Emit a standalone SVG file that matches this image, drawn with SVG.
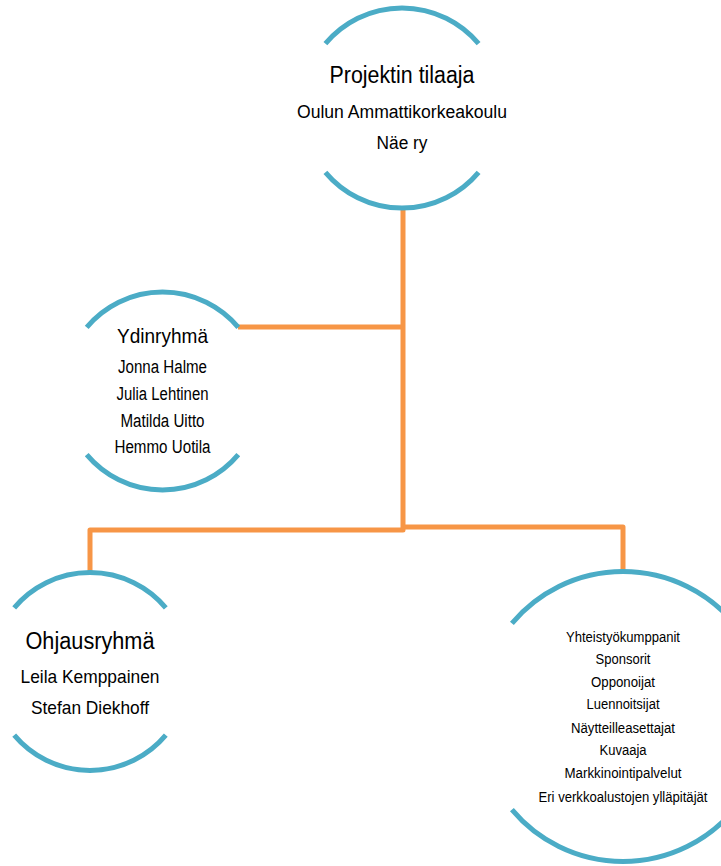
<svg xmlns="http://www.w3.org/2000/svg" width="721" height="866" viewBox="0 0 721 866">
<style>
.arc{fill:none;stroke:#4BACC6;stroke-width:5}
.con{fill:none;stroke:#F79646;stroke-width:5;stroke-linejoin:round}
text{font-family:"Liberation Sans",Arial,sans-serif;fill:#000;text-anchor:middle}
.t1{font-size:23px}
.t2{font-size:18px}
.t3{font-size:14px}
</style>
<rect width="721" height="866" fill="#fff"/>
<g id="connectors">
<path class="con" d="M403 208 V530 H90 V572"/>
<path class="con" d="M403 527 H623 V572"/>
<path class="con" d="M238 327 H403"/>
</g>
<g id="node-tilaaja">
<path class="arc" d="M325.4 43.7 A100 100 0 0 1 478.6 43.7"/>
<path class="arc" d="M325.4 172.3 A100 100 0 0 0 478.6 172.3"/>
<text class="t1" x="402" y="83" textLength="145" lengthAdjust="spacingAndGlyphs">Projektin tilaaja</text>
<text class="t2" x="402" y="118" textLength="210" lengthAdjust="spacingAndGlyphs">Oulun Ammattikorkeakoulu</text>
<text class="t2" x="402" y="149" textLength="51" lengthAdjust="spacingAndGlyphs">Näe ry</text>
</g>
<g id="node-ydinryhma">
<path class="arc" d="M86.7 327.4 A99 99 0 0 1 238.3 327.4"/>
<path class="arc" d="M86.7 454.6 A99 99 0 0 0 238.3 454.6"/>
<text x="162.5" y="343" style="font-size:21px" textLength="91" lengthAdjust="spacingAndGlyphs">Ydinryhmä</text>
<text class="t2" x="162.5" y="373" textLength="89" lengthAdjust="spacingAndGlyphs">Jonna Halme</text>
<text class="t2" x="162.5" y="400" textLength="92" lengthAdjust="spacingAndGlyphs">Julia Lehtinen</text>
<text class="t2" x="162.5" y="427" textLength="84" lengthAdjust="spacingAndGlyphs">Matilda Uitto</text>
<text class="t2" x="162.5" y="453" textLength="96" lengthAdjust="spacingAndGlyphs">Hemmo Uotila</text>
</g>
<g id="node-ohjausryhma">
<path class="arc" d="M14.2 607.9 A99 99 0 0 1 165.8 607.9"/>
<path class="arc" d="M14.2 735.1 A99 99 0 0 0 165.8 735.1"/>
<text class="t1" x="90" y="649" textLength="129" lengthAdjust="spacingAndGlyphs">Ohjausryhmä</text>
<text x="90" y="683" style="font-size:19px" textLength="139" lengthAdjust="spacingAndGlyphs">Leila Kemppainen</text>
<text x="90" y="714" style="font-size:19px" textLength="118" lengthAdjust="spacingAndGlyphs">Stefan Diekhoff</text>
</g>
<g id="node-yhteistyo">
<path class="arc" d="M511.9 623.3 A145 145 0 0 1 734.1 623.3"/>
<path class="arc" d="M511.9 809.7 A145 145 0 0 0 734.1 809.7"/>
<text class="t3" x="623" y="642" textLength="114" lengthAdjust="spacingAndGlyphs">Yhteistyökumppanit</text>
<text class="t3" x="623" y="664" textLength="55" lengthAdjust="spacingAndGlyphs">Sponsorit</text>
<text class="t3" x="623" y="687" textLength="64" lengthAdjust="spacingAndGlyphs">Opponoijat</text>
<text class="t3" x="623" y="709" textLength="73" lengthAdjust="spacingAndGlyphs">Luennoitsijat</text>
<text class="t3" x="623" y="733" textLength="104" lengthAdjust="spacingAndGlyphs">Näytteilleasettajat</text>
<text class="t3" x="623" y="755" textLength="47" lengthAdjust="spacingAndGlyphs">Kuvaaja</text>
<text class="t3" x="623" y="778" textLength="117" lengthAdjust="spacingAndGlyphs">Markkinointipalvelut</text>
<text class="t3" x="623" y="802" textLength="169" lengthAdjust="spacingAndGlyphs">Eri verkkoalustojen ylläpitäjät</text>
</g>
</svg>
